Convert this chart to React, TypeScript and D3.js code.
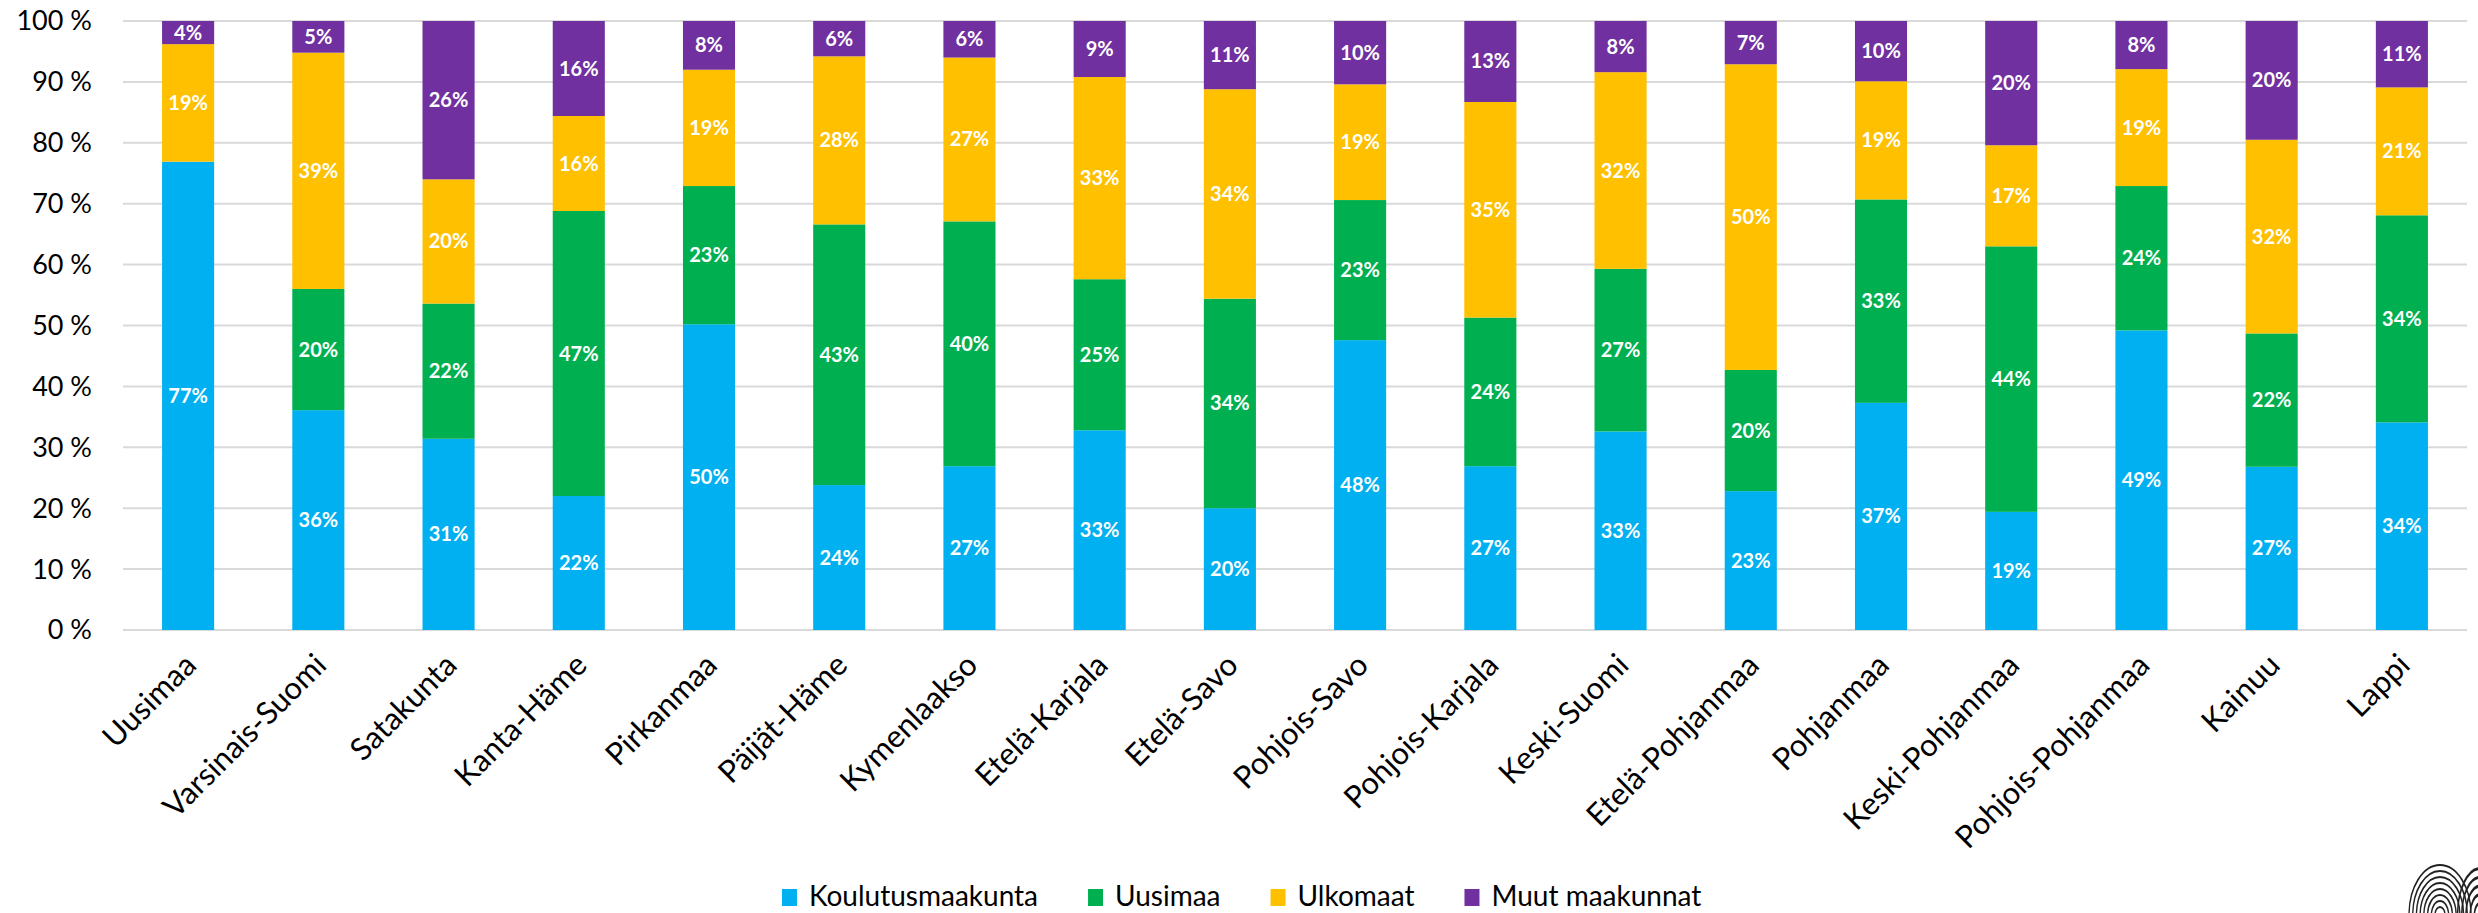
import React, { useEffect, useRef } from "react";
import * as d3 from "d3";

const categories = [
  "Uusimaa", "Varsinais-Suomi", "Satakunta", "Kanta-Häme", "Pirkanmaa", "Päijät-Häme",
  "Kymenlaakso", "Etelä-Karjala", "Etelä-Savo", "Pohjois-Savo", "Pohjois-Karjala", "Keski-Suomi",
  "Etelä-Pohjanmaa", "Pohjanmaa", "Keski-Pohjanmaa", "Pohjois-Pohjanmaa", "Kainuu", "Lappi",
];
const seriesNames = ["Koulutusmaakunta", "Uusimaa", "Ulkomaat", "Muut maakunnat"];
const koulutusmaakunta = [76.9, 36.1, 31.4, 22.0, 50.2, 23.8, 26.9, 32.8, 20.0, 47.6, 26.9, 32.6, 22.8, 37.3, 19.4, 49.2, 26.8, 34.1];
const uusimaa = [0, 19.9, 22.2, 46.8, 22.7, 42.8, 40.2, 24.8, 34.4, 23.0, 24.4, 26.7, 19.9, 33.4, 43.6, 23.7, 21.9, 34.0];
const ulkomaat = [19.3, 38.8, 20.4, 15.6, 19.1, 27.6, 26.9, 33.2, 34.4, 19.0, 35.4, 32.3, 50.2, 19.4, 16.6, 19.2, 31.8, 21.0];
const muut = [3.8, 5.2, 26.0, 15.6, 8.0, 5.8, 6.0, 9.2, 11.2, 10.4, 13.3, 8.4, 7.1, 9.9, 20.4, 7.9, 19.5, 10.9];
const yTicks = [0, 10, 20, 30, 40, 50, 60, 70, 80, 90, 100];
const colors = ["#00B0F0", "#00B050", "#FFC000", "#7030A0"];

const W = 2478;
const H = 913;
const FONT = "Lato, 'Open Sans', sans-serif";

export default function App() {
  const ref = useRef<SVGSVGElement>(null);

  useEffect(() => {
    const svg = d3.select(ref.current);
    svg.selectAll("*").remove();

    const left = 123, right = 2467, top = 21, bottom = 630;
    const x = d3.scaleBand<string>().domain(categories).range([left, right]).paddingInner(0.6).paddingOuter(0.3);
    const y = d3.scaleLinear().domain([0, 100]).range([bottom, top]);

    // grid
    svg.append("g").selectAll("line").data(yTicks).join("line")
      .attr("x1", left).attr("x2", right)
      .attr("y1", (d) => y(d)).attr("y2", (d) => y(d))
      .attr("stroke", "#d9d9d9").attr("stroke-width", 2);

    // y tick labels
    svg.append("g").selectAll("text").data(yTicks).join("text")
      .attr("x", 92).attr("y", (d) => y(d)).attr("dy", "0.35em")
      .attr("text-anchor", "end")
      .attr("font-family", FONT).attr("font-size", 27).attr("fill", "#000")
      .text((d) => `${d} %`);

    const table = categories.map((c, i) => ({
      cat: c,
      "Koulutusmaakunta": koulutusmaakunta[i],
      "Uusimaa": uusimaa[i],
      "Ulkomaat": ulkomaat[i],
      "Muut maakunnat": muut[i],
    }));
    const stacked = d3.stack<any>().keys(seriesNames)(table);

    const gBars = svg.append("g");
    stacked.forEach((layer, si) => {
      const g = gBars.append("g");
      g.selectAll("rect").data(layer).join("rect")
        .attr("x", (d: any) => x(d.data.cat)!)
        .attr("width", x.bandwidth())
        .attr("y", (d: any) => y(d[1]))
        .attr("height", (d: any) => Math.max(0, y(d[0]) - y(d[1])))
        .attr("fill", colors[si]);
      g.selectAll("text").data(layer.filter((d: any) => d[1] - d[0] > 0.5)).join("text")
        .attr("x", (d: any) => x(d.data.cat)! + x.bandwidth() / 2)
        .attr("y", (d: any) => (y(d[0]) + y(d[1])) / 2)
        .attr("dy", "0.35em")
        .attr("text-anchor", "middle")
        .attr("font-family", FONT).attr("font-size", 20).attr("font-weight", 700)
        .attr("fill", "#fff")
        .text((d: any) => `${Math.round(d[1] - d[0])}%`);
    });

    // x axis labels
    svg.append("g").selectAll("text").data(categories).join("text")
      .attr("transform", (d) => `translate(${x(d)! + x.bandwidth() / 2 + 10},${667}) rotate(-45)`)
      .attr("text-anchor", "end")
      .attr("font-family", FONT).attr("font-size", 31).attr("fill", "#000")
      .text((d) => d);

    // legend
    const lg = svg.append("g");
    let cx = 0;
    const items: { x: number; name: string; color: string }[] = [];
    const measure = svg.append("text").attr("font-family", FONT).attr("font-size", 28);
    seriesNames.forEach((n, i) => {
      measure.text(n);
      const w = (measure.node() as SVGTextElement).getComputedTextLength();
      items.push({ x: cx, name: n, color: colors[i] });
      cx += 15 + 12 + w + 50;
    });
    measure.remove();
    const startX = 782;
    items.forEach((it) => {
      lg.append("rect").attr("x", startX + it.x).attr("y", 889).attr("width", 15).attr("height", 17).attr("fill", it.color);
      lg.append("text").attr("x", startX + it.x + 27).attr("y", 896).attr("dy", "0.35em")
        .attr("font-family", FONT).attr("font-size", 28).attr("fill", "#000").text(it.name);
    });

    // logo (fingerprint fragment)
    const logo = svg.append("g").attr("fill", "none").attr("stroke", "#222").attr("stroke-width", 2.2);
    [8, 14, 20, 26, 32, 38, 44, 50].forEach((r) => {
      logo.append("path").attr("d", d3.arc()({ innerRadius: r, outerRadius: r, startAngle: -Math.PI / 2, endAngle: Math.PI / 2 } as any) as string)
        .attr("transform", `translate(2440,${915}) scale(0.62,1)`);
    });
    [8, 14, 20, 26, 32].forEach((r) => {
      logo.append("path").attr("d", d3.arc()({ innerRadius: r, outerRadius: r, startAngle: -Math.PI / 2, endAngle: 0 } as any) as string)
        .attr("transform", `translate(2480,${915}) scale(0.7,1.45)`);
    });
  }, []);

  return (
    <svg ref={ref} width={W} height={H}
      style={{ position: "absolute", left: 0, top: 0, display: "block", background: "#fff" }} />
  );
}
